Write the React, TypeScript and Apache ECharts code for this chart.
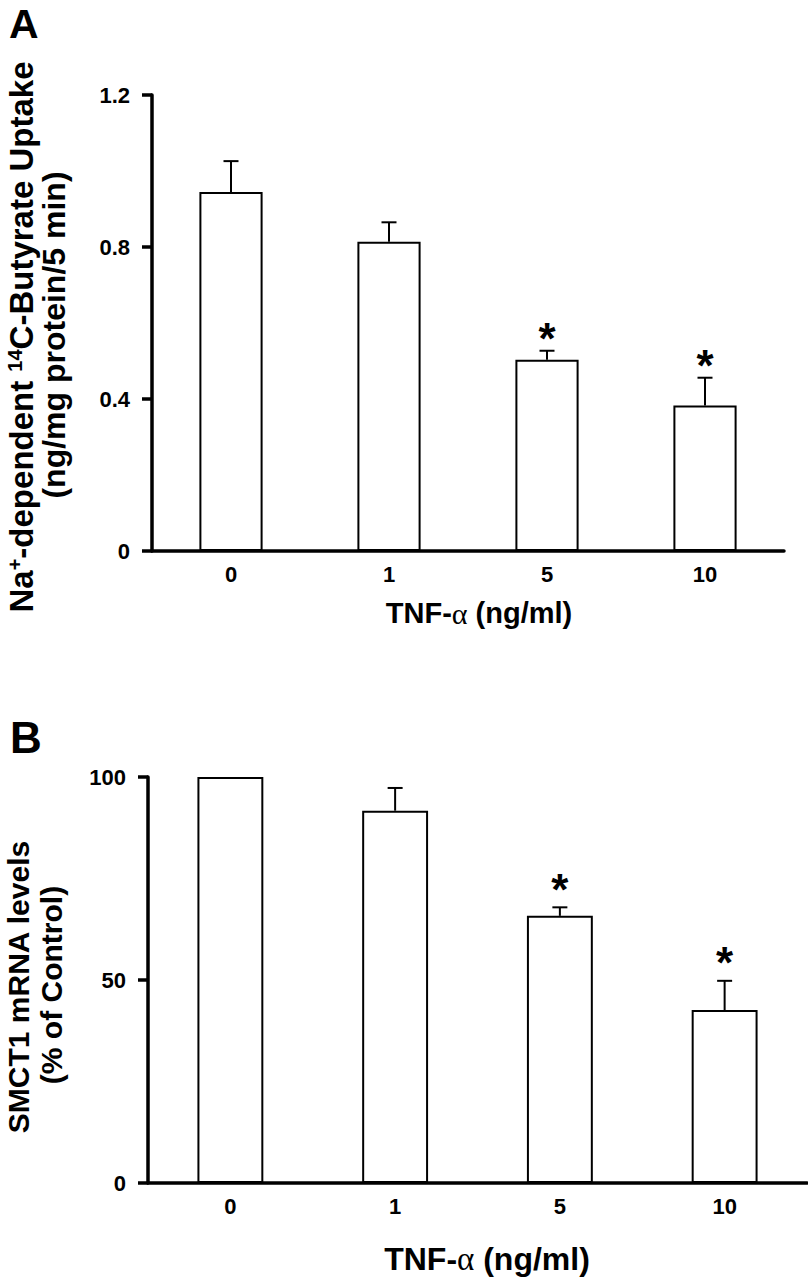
import React, { useEffect, useRef } from 'react';
import * as echarts from 'echarts';

// ---- Data ----
const categories = ['0', '1', '5', '10'];

// Panel A: Na+-dependent 14C-butyrate uptake (ng/mg protein/5 min)
const uptakeMeans = [0.945, 0.814, 0.503, 0.383];
const uptakeErrors = [0.081, 0.051, 0.024, 0.073];
const uptakeSignificant = [false, false, true, true];
const uptakeAxis = { min: 0, max: 1.2, interval: 0.4 };

// Panel B: SMCT1 mRNA levels (% of control)
const mrnaMeans = [100, 91.7, 65.8, 42.6];
const mrnaErrors = [0, 5.6, 2.1, 7.2];
const mrnaSignificant = [false, false, true, true];
const mrnaAxis = { min: 0, max: 100, interval: 50 };

const FONT = '"Liberation Sans", Arial, Helvetica, sans-serif';
const SERIF = '"Liberation Serif", "DejaVu Serif", serif';

function errorSeries(gridIdx: number, means: number[], errs: number[], sig: boolean[], starOffset: number) {
  return {
    type: 'custom',
    xAxisIndex: gridIdx,
    yAxisIndex: gridIdx,
    encode: { x: 0, y: [1, 2] },
    data: means.map((m, i) => [i, m, m + errs[i], sig[i] ? 1 : 0]),
    z: 5,
    renderItem: (params: any, api: any) => {
      const i = api.value(0);
      const base = api.coord([i, api.value(1)]);
      const top = api.coord([i, api.value(2)]);
      const children: any[] = [];
      if (top[1] < base[1] - 0.5) {
        children.push({
          type: 'line',
          shape: { x1: base[0], y1: base[1], x2: top[0], y2: top[1] },
          style: { stroke: '#000', lineWidth: 2 },
        });
        children.push({
          type: 'line',
          shape: { x1: top[0] - 7.5, y1: top[1], x2: top[0] + 7.5, y2: top[1] },
          style: { stroke: '#000', lineWidth: 2 },
        });
      }
      if (api.value(3)) {
        children.push({
          type: 'text',
          x: top[0],
          y: top[1] - starOffset,
          style: {
            text: '*',
            fill: '#000',
            fontSize: 44,
            fontWeight: 'bold',
            fontFamily: FONT,
            align: 'center',
            verticalAlign: 'middle',
          },
        });
      }
      return { type: 'group', children };
    },
  };
}

function xAxisFor(gridIndex: number) {
  return {
    gridIndex,
    type: 'category',
    data: categories,
    axisLine: { show: true, lineStyle: { color: '#000', width: 3.5 } },
    axisTick: { show: false },
    axisLabel: {
      interval: 0,
      color: '#000',
      fontSize: 22,
      fontWeight: 'bold',
      fontFamily: FONT,
      margin: 12,
    },
    splitLine: { show: false },
  };
}

function yAxisFor(gridIndex: number, ax: { min: number; max: number; interval: number }, fmt: (v: number) => string) {
  return {
    gridIndex,
    type: 'value',
    min: ax.min,
    max: ax.max,
    interval: ax.interval,
    axisLine: { show: true, lineStyle: { color: '#000', width: 3.5 } },
    axisTick: { show: true, length: 10, lineStyle: { color: '#000', width: 3.5 } },
    axisLabel: {
      color: '#000',
      fontSize: 22,
      fontWeight: 'bold',
      fontFamily: FONT,
      margin: 22,
      formatter: fmt,
    },
    splitLine: { show: false },
  };
}

function barSeries(gridIdx: number, values: number[]) {
  return {
    type: 'bar',
    xAxisIndex: gridIdx,
    yAxisIndex: gridIdx,
    data: values,
    barWidth: '40%',
    itemStyle: { color: '#fff', borderColor: '#000', borderWidth: 2 },
    z: 3,
  };
}

export default function App() {
  const ref = useRef<HTMLDivElement>(null);

  useEffect(() => {
    if (!ref.current) return;
    const chart = echarts.init(ref.current, undefined, { renderer: 'svg' });

    const richMain = (size: number) => ({ fontSize: size, fontWeight: 'bold', fontFamily: FONT, fill: '#000' });

    const option: any = {
      animation: false,
      backgroundColor: '#fff',
      textStyle: { fontFamily: FONT },
      grid: [
        { left: 152, right: 24, top: 95, height: 456 },
        { left: 148, right: 1, top: 777, height: 406 },
      ],
      xAxis: [xAxisFor(0), xAxisFor(1)],
      yAxis: [
        yAxisFor(0, uptakeAxis, (v: number) => (v === 0 ? '0' : v.toFixed(1))),
        yAxisFor(1, mrnaAxis, (v: number) => String(Math.round(v))),
      ],
      series: [
        barSeries(0, uptakeMeans),
        errorSeries(0, uptakeMeans, uptakeErrors, uptakeSignificant, 12),
        barSeries(1, mrnaMeans),
        errorSeries(1, mrnaMeans, mrnaErrors, mrnaSignificant, 18),
      ],
      graphic: [
        {
          type: 'text',
          x: 9,
          y: 24,
          style: { text: 'A', fontSize: 41, fontWeight: 'bold', fontFamily: FONT, fill: '#000', align: 'left', verticalAlign: 'middle' },
        },
        {
          type: 'text',
          x: 10,
          y: 737,
          style: { text: 'B', fontSize: 44, fontWeight: 'bold', fontFamily: FONT, fill: '#000', align: 'left', verticalAlign: 'middle' },
        },
        // Panel A y-axis title
        {
          type: 'text',
          x: 21,
          y: 337,
          rotation: Math.PI / 2,
          style: {
            text: '{n|Na}{s|+}{n|-dependent }{s|14}{n|C-Butyrate Uptake}',
            align: 'center',
            verticalAlign: 'middle',
            fontSize: 33,
            fontWeight: 'bold',
            fontFamily: FONT,
            fill: '#000',
            rich: {
              n: richMain(33),
              s: { fontSize: 20, fontWeight: 'bold', fontFamily: FONT, fill: '#000', verticalAlign: 'top' },
            },
          },
        },
        {
          type: 'text',
          x: 54,
          y: 335,
          rotation: Math.PI / 2,
          style: {
            text: '(ng/mg protein/5 min)',
            align: 'center',
            verticalAlign: 'middle',
            fontSize: 32,
            fontWeight: 'bold',
            fontFamily: FONT,
            fill: '#000',
          },
        },
        // Panel A x-axis title
        {
          type: 'text',
          x: 479,
          y: 613,
          style: {
            text: '{n|TNF-}{g|α}{n| (ng/ml)}',
            align: 'center',
            verticalAlign: 'middle',
            fontSize: 29,
            fontWeight: 'bold',
            fontFamily: FONT,
            fill: '#000',
            rich: {
              n: richMain(29),
              g: { fontSize: 30, fontWeight: 'normal', fontFamily: SERIF, fill: '#000' },
            },
          },
        },
        // Panel B y-axis title
        {
          type: 'text',
          x: 18,
          y: 987,
          rotation: Math.PI / 2,
          style: {
            text: 'SMCT1 mRNA levels',
            align: 'center',
            verticalAlign: 'middle',
            fontSize: 30,
            fontWeight: 'bold',
            fontFamily: FONT,
            fill: '#000',
          },
        },
        {
          type: 'text',
          x: 51,
          y: 985,
          rotation: Math.PI / 2,
          style: {
            text: '(% of Control)',
            align: 'center',
            verticalAlign: 'middle',
            fontSize: 30,
            fontWeight: 'bold',
            fontFamily: FONT,
            fill: '#000',
          },
        },
        // Panel B x-axis title
        {
          type: 'text',
          x: 487,
          y: 1259,
          style: {
            text: '{n|TNF-}{g|α}{n| (ng/ml)}',
            align: 'center',
            verticalAlign: 'middle',
            fontSize: 32,
            fontWeight: 'bold',
            fontFamily: FONT,
            fill: '#000',
            rich: {
              n: richMain(32),
              g: { fontSize: 33, fontWeight: 'normal', fontFamily: SERIF, fill: '#000' },
            },
          },
        },
      ],
    };

    chart.setOption(option);
    return () => {
      chart.dispose();
    };
  }, []);

  return (
    <div
      ref={ref}
      style={{ position: 'absolute', left: 0, top: 0, width: 808, height: 1277, background: '#fff' }}
    />
  );
}
